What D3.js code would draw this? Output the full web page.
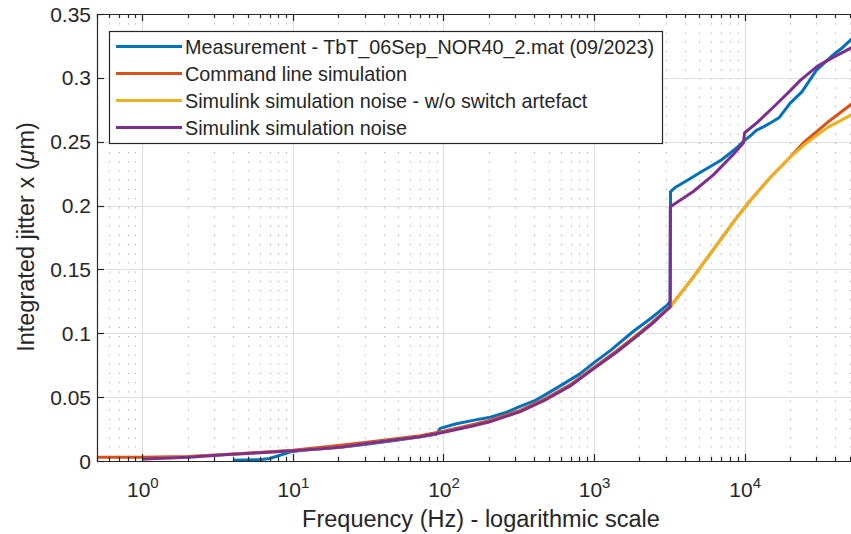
<!DOCTYPE html>
<html><head><meta charset="utf-8">
<script src="https://cdn.jsdelivr.net/npm/d3@7/dist/d3.min.js"></script>
<style>
body{margin:0;background:#fff;}
text{font-family:"Liberation Sans", Arial, Helvetica, sans-serif; fill:#262626;}
</style>
</head><body>
<svg id="chart" width="851" height="534"></svg>
<script>
// ---------- data ----------
const measFreq = [4, 6, 7, 9, 10, 13, 20, 30, 50, 70, 90, 95, 120, 160, 200, 260, 320, 400, 460, 600, 800, 1000, 1300, 1800, 2400, 3060, 3200, 3220, 3500, 4200, 5000, 6000, 7000, 8000, 9000, 10000, 11000, 12000, 13500, 15000, 17000, 20000, 24000, 27000, 30000, 34000, 38700, 45000, 52000];
const measVal  = [0.0005, 0.001, 0.002, 0.006, 0.0075, 0.009, 0.0105, 0.013, 0.0165, 0.019, 0.021, 0.0255, 0.029, 0.032, 0.034, 0.038, 0.0425, 0.047, 0.051, 0.059, 0.068, 0.077, 0.087, 0.101, 0.112, 0.122, 0.125, 0.211, 0.2146, 0.220, 0.2255, 0.231, 0.2357, 0.241, 0.246, 0.251, 0.255, 0.259, 0.262, 0.265, 0.269, 0.280, 0.289, 0.298, 0.306, 0.312, 0.318, 0.324, 0.331];

const cmdFreq = [0.5, 1, 2, 4, 10, 20, 30, 44, 70, 100, 150, 200, 320, 460, 700, 1000, 1400, 1800, 2400, 3060, 3200, 4560, 6890, 8660, 10900, 14800, 20100, 24500, 35400, 52000];
const cmdVal  = [0.003, 0.003, 0.0035, 0.0055, 0.0085, 0.0122, 0.0145, 0.0168, 0.0198, 0.0233, 0.028, 0.0315, 0.0395, 0.048, 0.060, 0.0735, 0.086, 0.096, 0.108, 0.119, 0.1206, 0.144, 0.173, 0.189, 0.204, 0.222, 0.238, 0.249, 0.265, 0.280];

const slNoArtFreq = [1, 2, 3.7, 6, 10, 17, 21, 30, 44, 70, 100, 150, 200, 320, 460, 700, 1000, 1400, 1800, 2400, 3060, 3200, 4560, 6890, 8660, 10900, 14800, 20100, 24500, 35400, 52000];
const slNoArtVal  = [0.0015, 0.003, 0.005, 0.0065, 0.008, 0.010, 0.011, 0.0135, 0.016, 0.019, 0.0225, 0.027, 0.0305, 0.0385, 0.047, 0.059, 0.0725, 0.085, 0.095, 0.107, 0.1185, 0.1205, 0.144, 0.173, 0.189, 0.204, 0.222, 0.238, 0.247, 0.261, 0.2715];

const slFreq = [1, 2, 3.7, 6, 10, 17, 21, 30, 44, 70, 100, 150, 200, 320, 460, 700, 1000, 1400, 1800, 2400, 3060, 3200, 3210, 4560, 6200, 8400, 9800, 10000, 12100, 15500, 20100, 23400, 30300, 38700, 52000];
const slVal  = [0.0015, 0.003, 0.005, 0.0065, 0.008, 0.010, 0.011, 0.0135, 0.016, 0.019, 0.0225, 0.027, 0.0305, 0.0385, 0.047, 0.059, 0.0725, 0.085, 0.095, 0.107, 0.1185, 0.1205, 0.199, 0.211, 0.224, 0.240, 0.249, 0.257, 0.265, 0.277, 0.290, 0.298, 0.309, 0.316, 0.324];

const seriesNames = ["Measurement - TbT_06Sep_NOR40_2.mat (09/2023)", "Command line simulation", "Simulink simulation noise - w/o switch artefact", "Simulink simulation noise"];
const seriesColors = ["#0072BD", "#D95319", "#EDB120", "#7E2F8E"];

const yTicks = [0, 0.05, 0.1, 0.15, 0.2, 0.25, 0.3, 0.35];
const yTickLabels = ["0", "0.05", "0.1", "0.15", "0.2", "0.25", "0.3", "0.35"];
const xMajorTicks = [1, 10, 100, 1000, 10000];
const xTickExponents = ["0", "1", "2", "3", "4"];
const xLabel = "Frequency (Hz) - logarithmic scale";
const yLabelMain = "Integrated jitter x (";
const yLabelUnit = "\u03BC";
const yLabelEnd = "m)";

// ---------- layout ----------
const L = 97, R = 865, T = 14, B = 461;
const svg = d3.select("#chart");
svg.append("rect").attr("width", 851).attr("height", 534).attr("fill", "#fff");

const x = d3.scaleLog().domain([0.5, 63000]).range([L, R]);
const y = d3.scaleLinear().domain([0, 0.35]).range([B, T]);

const minorTicks = [];
for (let e = -1; e <= 4; e++) {
  for (let m = 2; m <= 9; m++) {
    const v = m * Math.pow(10, e);
    if (v >= 0.5 && v <= 63000) minorTicks.push(v);
  }
}

const grid = svg.append("g");
grid.selectAll("line.minor").data(minorTicks).enter().append("line")
  .attr("x1", d => Math.round(x(d)) + 0.5).attr("x2", d => Math.round(x(d)) + 0.5)
  .attr("y1", T).attr("y2", B)
  .attr("stroke", "#b4b4b4").attr("stroke-width", 1.2)
  .attr("stroke-dasharray", "1.2,8");
grid.selectAll("line.majx").data(xMajorTicks).enter().append("line")
  .attr("x1", d => Math.round(x(d)) + 0.5).attr("x2", d => Math.round(x(d)) + 0.5)
  .attr("y1", T).attr("y2", B)
  .attr("stroke", "#dedede").attr("stroke-width", 1.2);
grid.selectAll("line.majy").data(yTicks).enter().append("line")
  .attr("x1", L).attr("x2", R)
  .attr("y1", d => Math.round(y(d)) + 0.5).attr("y2", d => Math.round(y(d)) + 0.5)
  .attr("stroke", "#dedede").attr("stroke-width", 1.2);

// ---------- series ----------
svg.append("clipPath").attr("id", "clip").append("rect")
  .attr("x", L).attr("y", T - 4).attr("width", R - L).attr("height", B - T + 6);

const series = [
  {f: measFreq, v: measVal},
  {f: cmdFreq, v: cmdVal},
  {f: slNoArtFreq, v: slNoArtVal},
  {f: slFreq, v: slVal}
];
const line = d3.line().x(d => x(d[0])).y(d => y(d[1]));
const plotG = svg.append("g").attr("clip-path", "url(#clip)");
series.forEach((s, i) => {
  plotG.append("path")
    .attr("d", line(s.f.map((f, k) => [f, s.v[k]])))
    .attr("fill", "none")
    .attr("stroke", seriesColors[i])
    .attr("stroke-width", 3)
    .attr("stroke-linejoin", "round");
});

// ---------- axes ----------
const axisColor = "#262626";
const ax = svg.append("g");
ax.append("line").attr("x1", L).attr("x2", R).attr("y1", B + 0.5).attr("y2", B + 0.5).attr("stroke", axisColor).attr("stroke-width", 1.2);
ax.append("line").attr("x1", L).attr("x2", R).attr("y1", T + 0.5).attr("y2", T + 0.5).attr("stroke", axisColor).attr("stroke-width", 1.2);
ax.append("line").attr("x1", L + 0.5).attr("x2", L + 0.5).attr("y1", T).attr("y2", B + 1).attr("stroke", axisColor).attr("stroke-width", 1.2);

[[B, -1], [T, 1]].forEach(([yy, dir]) => {
  ax.selectAll(null).data(minorTicks).enter().append("line")
    .attr("x1", d => Math.round(x(d)) + 0.5).attr("x2", d => Math.round(x(d)) + 0.5)
    .attr("y1", yy).attr("y2", yy + dir * 4)
    .attr("stroke", axisColor).attr("stroke-width", 1.2);
  ax.selectAll(null).data(xMajorTicks).enter().append("line")
    .attr("x1", d => Math.round(x(d)) + 0.5).attr("x2", d => Math.round(x(d)) + 0.5)
    .attr("y1", yy).attr("y2", yy + dir * 7)
    .attr("stroke", axisColor).attr("stroke-width", 1.2);
});
ax.selectAll(null).data(yTicks).enter().append("line")
  .attr("x1", L).attr("x2", L + 7)
  .attr("y1", d => Math.round(y(d)) + 0.5).attr("y2", d => Math.round(y(d)) + 0.5)
  .attr("stroke", axisColor).attr("stroke-width", 1.2);

xMajorTicks.forEach((t, i) => {
  const tx = ax.append("text").attr("x", x(t) + 0.5).attr("y", 497)
    .attr("text-anchor", "middle").attr("font-size", 21);
  tx.append("tspan").text("10");
  tx.append("tspan").attr("dy", -9).attr("font-size", 15).text(xTickExponents[i]);
});
yTicks.forEach((t, i) => {
  ax.append("text").attr("x", 91).attr("y", y(t)).attr("dy", "0.36em")
    .attr("text-anchor", "end").attr("font-size", 21).text(yTickLabels[i]);
});

svg.append("text").attr("x", 481).attr("y", 527).attr("text-anchor", "middle")
  .attr("font-size", 23.5).text(xLabel);
const yl = svg.append("text").attr("transform", "translate(34,237) rotate(-90)")
  .attr("text-anchor", "middle").attr("font-size", 23.5);
yl.append("tspan").text(yLabelMain);
yl.append("tspan").attr("font-style", "italic").text(yLabelUnit);
yl.append("tspan").text(yLabelEnd);

// ---------- legend ----------
const lg = svg.append("g");
lg.append("rect").attr("x", 109.5).attr("y", 31.5).attr("width", 553).attr("height", 112)
  .attr("fill", "#fff").attr("stroke", axisColor).attr("stroke-width", 1.2);
seriesNames.forEach((n, i) => {
  const ry = 46.5 + i * 27;
  lg.append("line").attr("x1", 116).attr("x2", 182).attr("y1", ry).attr("y2", ry)
    .attr("stroke", seriesColors[i]).attr("stroke-width", 3);
  lg.append("text").attr("x", 185).attr("y", ry).attr("dy", "0.36em")
    .attr("font-size", 19.8).attr("fill", "#000").text(n);
});
</script>
</body></html>
